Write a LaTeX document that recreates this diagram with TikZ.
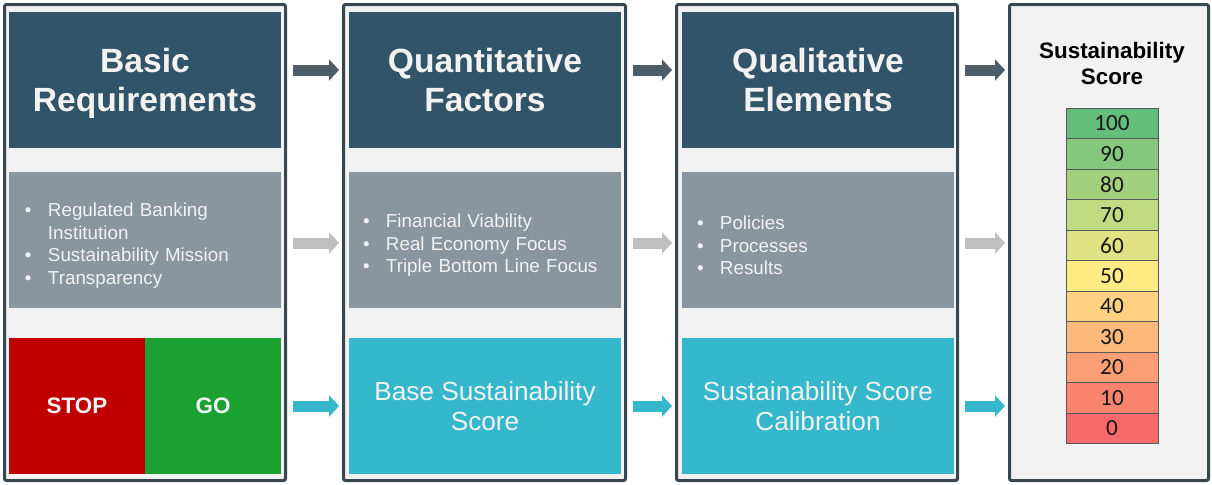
\documentclass[tikz,border=0pt]{standalone}
\usepackage{fontspec}
\setmainfont{Liberation Sans}
\newfontfamily\scalefont{Carlito}
\usetikzlibrary{arrows.meta}

\definecolor{frameline}{RGB}{56,70,80}
\definecolor{framefill}{RGB}{242,242,242}
\definecolor{headblue}{RGB}{49,84,104}
\definecolor{midgray}{RGB}{138,150,158}
\definecolor{calteal}{RGB}{53,184,204}
\definecolor{stopred}{RGB}{192,0,0}
\definecolor{gogreen}{RGB}{27,160,50}
\definecolor{darkarrow}{RGB}{76,93,104}
\definecolor{lightarrow}{RGB}{191,191,191}
\definecolor{paletext}{RGB}{242,242,242}
% score scale colours
\definecolor{s100}{HTML}{63BE7B}
\definecolor{s90}{HTML}{85C87D}
\definecolor{s80}{HTML}{A2D07F}
\definecolor{s70}{HTML}{C2DA81}
\definecolor{s60}{HTML}{E0E383}
\definecolor{s50}{HTML}{FFEB84}
\definecolor{s40}{HTML}{FED280}
\definecolor{s30}{HTML}{FDB87B}
\definecolor{s20}{HTML}{FB9D75}
\definecolor{s10}{HTML}{FA8370}
\definecolor{s0}{HTML}{F8696B}

\newcommand{\bul}{\makebox[11.5pt][l]{\textbullet}}
\newcommand{\ind}{\hspace*{11.5pt}}

\begin{document}
\begin{tikzpicture}[x=0.5pt, y=-0.5pt,
  frame/.style={draw=frameline, line width=1.5pt, fill=framefill, rounded corners=1pt,
    minimum width=#1, minimum height=238pt, inner sep=0pt},
  box/.style={minimum width=136pt, minimum height=68pt, inner sep=0pt, align=center},
  head/.style={box, fill=headblue, text=paletext, text depth=0pt,
    font=\bfseries\fontsize{16.8}{19.5}\selectfont},
  listbox/.style={box, fill=midgray},
  listtext/.style={text=paletext, align=left, text width=121pt, inner sep=0pt,
    font=\fontsize{9.4}{11.25}\selectfont},
  calib/.style={box, fill=calteal, text=paletext, font=\fontsize{13.1}{14.75}\selectfont},
  signal/.style={minimum width=68pt, minimum height=68pt, inner sep=0pt, text=paletext,
    font=\bfseries\fontsize{11.2}{13}\selectfont},
  cell/.style={draw=black!65, line width=0.5pt, minimum width=46pt, minimum height=15.25pt,
    inner sep=0pt, text=black!90, font=\scalefont\fontsize{11.6}{12}\selectfont},
  flow/.style={line width=5.5pt, -{Triangle[length=5pt, width=10.5pt]},
    shorten <=3pt, shorten >=1.5pt}]
  \useasboundingbox (0,0) rectangle (1212,484);

  % Column frames
  \node[frame=140.5pt] (f1) at (145,242.5) {};
  \node[frame=141pt] (f2) at (484.5,242.5) {};
  \node[frame=140.5pt] (f3) at (817,242.5) {};
  \node[frame=99.5pt] (f4) at (1109,242.5) {};

  % Headers
  \node[head] (h1) at (145,80) {Basic\\Requirements};
  \node[head] (h2) at (485,80) {Quantitative\\Factors};
  \node[head] (h3) at (818,80) {Qualitative\\Elements};

  % Criteria lists
  \node[listbox] (g1) at (145,240) {};
  \node[listbox] (g2) at (485,240) {};
  \node[listbox] (g3) at (818,240) {};
  \node[listtext] (t1) at (146,245.5) {\bul Regulated Banking\\\ind Institution\\\bul Sustainability Mission\\\bul Transparency};
  \node[listtext] (t2) at (484,245.5) {\bul Financial Viability\\\bul Real Economy Focus\\\bul Triple Bottom Line Focus};
  \node[listtext] (t3) at (818,245.5) {\bul Policies\\\bul Processes\\\bul Results};

  % Outcomes
  \node[signal, fill=stopred] (stop) at (77,406) {STOP};
  \node[signal, fill=gogreen] (go) at (213,406) {GO};
  \node[calib] (b2) at (485,406) {Base Sustainability\\Score};
  \node[calib] (b3) at (818,406) {Sustainability Score\\Calibration};

  % Score scale
  \node[font=\bfseries\fontsize{11.2}{13}\selectfont, align=center] (title) at (1112,63) {Sustainability\\Score};
  \foreach \v/\c [count=\i from 0] in {100/s100,90/s90,80/s80,70/s70,60/s60,50/s50,40/s40,30/s30,20/s20,10/s10,0/s0}
    \node[cell, fill=\c] (c\v) at (1112,{108+30.5*(\i+0.5)}) {\v};

  % Arrows between columns
  \coordinate (top) at (0,70);
  \coordinate (mid) at (0,243);
  \coordinate (bot) at (0,406);
  \foreach \a/\b in {f1/f2,f2/f3,f3/f4} {
    \draw[flow, darkarrow] (top -| \a.east) -- (top -| \b.west);
    \draw[flow, lightarrow] (mid -| \a.east) -- (mid -| \b.west);
    \draw[flow, calteal] (bot -| \a.east) -- (bot -| \b.west);
  }
\end{tikzpicture}
\end{document}
